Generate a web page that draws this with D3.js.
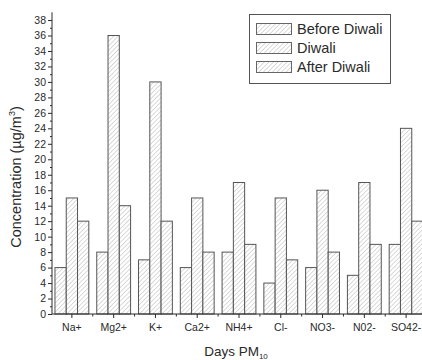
<!DOCTYPE html>
<html><head><meta charset="utf-8">
<script src="https://cdn.jsdelivr.net/npm/d3@7"></script>
<style>
html,body{margin:0;padding:0;background:#fff;}
svg{display:block;font-family:"Liberation Sans",Arial,sans-serif;}
</style></head>
<body><svg id="c" width="422" height="360"></svg>
<script>
const categories = ["Na+","Mg2+","K+","Ca2+","NH4+","Cl-","NO3-","N02-","SO42-"];
const seriesNames = ["Before Diwali","Diwali","After Diwali"];
const beforeDiwali = [6,8,7,6,8,4,6,5,9];
const diwali = [15,36,30,15,17,15,16,17,24];
const afterDiwali = [12,14,12,8,9,7,8,9,12];
const yTicks = d3.range(0,39,2);

const series = [beforeDiwali, diwali, afterDiwali];
const svg = d3.select("#c");
const ink = "#2a2a2a";

const defs = svg.append("defs");
const pat = defs.append("pattern").attr("id","hatch").attr("patternUnits","userSpaceOnUse")
  .attr("width",3.2).attr("height",3.2).attr("patternTransform","rotate(45)");
pat.append("rect").attr("width",3.2).attr("height",3.2).attr("fill","#fff");
pat.append("line").attr("x1",0).attr("y1",0).attr("x2",0).attr("y2",3.2)
  .attr("stroke","#b8b8b8").attr("stroke-width",1);

const y = d3.scaleLinear().domain([0,39]).range([314, 12.3]);
const x = d3.scaleBand().domain(categories).range([51, 427]).paddingInner(0.19).paddingOuter(0.095);
const xs = d3.scaleBand().domain(d3.range(3)).range([0, x.bandwidth()]);

// bars
const g = svg.append("g");
categories.forEach((c,i)=>{
  series.forEach((s,j)=>{
    g.append("rect")
      .attr("x", x(c)+xs(j)).attr("y", y(s[i]))
      .attr("width", xs.bandwidth()).attr("height", y(0)-y(s[i]))
      .attr("fill","url(#hatch)").attr("stroke","#555").attr("stroke-width",1);
  });
});

// y axis
const yAxis = d3.axisLeft(y).tickValues(yTicks).tickSize(4).tickPadding(2).tickFormat(d3.format("d"));
const ya = svg.append("g").attr("transform","translate(52,0)").call(yAxis);
ya.select(".domain").attr("stroke",ink).attr("d","M0,"+y(39)+"V"+y(0));
ya.selectAll(".tick line").attr("stroke",ink);
ya.selectAll(".tick text").attr("fill",ink).attr("font-size","10.5px");
const yMinor = d3.axisLeft(y).tickValues(d3.range(1,39,2)).tickSize(2).tickFormat("");
const ym = svg.append("g").attr("transform","translate(52,0)").call(yMinor);
ym.select(".domain").remove();
ym.selectAll(".tick line").attr("stroke",ink);

// x axis
const xAxis = d3.axisBottom(x).tickSize(4).tickPadding(6).tickSizeOuter(0);
const xa = svg.append("g").attr("transform","translate(0,314)").call(xAxis);
xa.select(".domain").attr("stroke",ink).attr("d","M52,0H422");
xa.selectAll(".tick line").attr("stroke",ink);
xa.selectAll(".tick text").attr("fill",ink).attr("font-size","10.5px");
const mids = categories.slice(1).map(c => x(c) - x.step()*x.paddingInner()/2);
svg.append("g").selectAll("line").data(mids).join("line")
  .attr("x1",d=>d).attr("x2",d=>d).attr("y1",314).attr("y2",316.5).attr("stroke",ink);

// y label
const yl = svg.append("text").attr("transform","translate(21,177) rotate(-90)")
  .attr("text-anchor","middle").attr("font-size","14.5px").attr("fill",ink);
yl.append("tspan").text("Concentration (µg/m");
yl.append("tspan").attr("font-size","9px").attr("dy","-6").text("3");
yl.append("tspan").attr("dy","6").text(")");

// x label
const xl = svg.append("text").attr("x",236).attr("y",356).attr("text-anchor","middle")
  .attr("font-size","13.5px").attr("fill",ink);
xl.append("tspan").text("Days PM");
xl.append("tspan").attr("font-size","8px").attr("dy","3").text("10");

// legend
const lg = svg.append("g");
lg.append("rect").attr("x",249.5).attr("y",14.5).attr("width",141).attr("height",69)
  .attr("fill","#fff").attr("stroke","#555").attr("stroke-width",1);
seriesNames.forEach((n,i)=>{
  const yy = 23 + i*19;
  lg.append("rect").attr("x",256.5).attr("y",yy+0.5).attr("width",35).attr("height",11)
    .attr("fill","url(#hatch)").attr("stroke","#666").attr("stroke-width",1);
  lg.append("text").attr("x",297).attr("y",yy+11).attr("font-size","14.5px").attr("fill",ink).text(n);
});
</script></body></html>
